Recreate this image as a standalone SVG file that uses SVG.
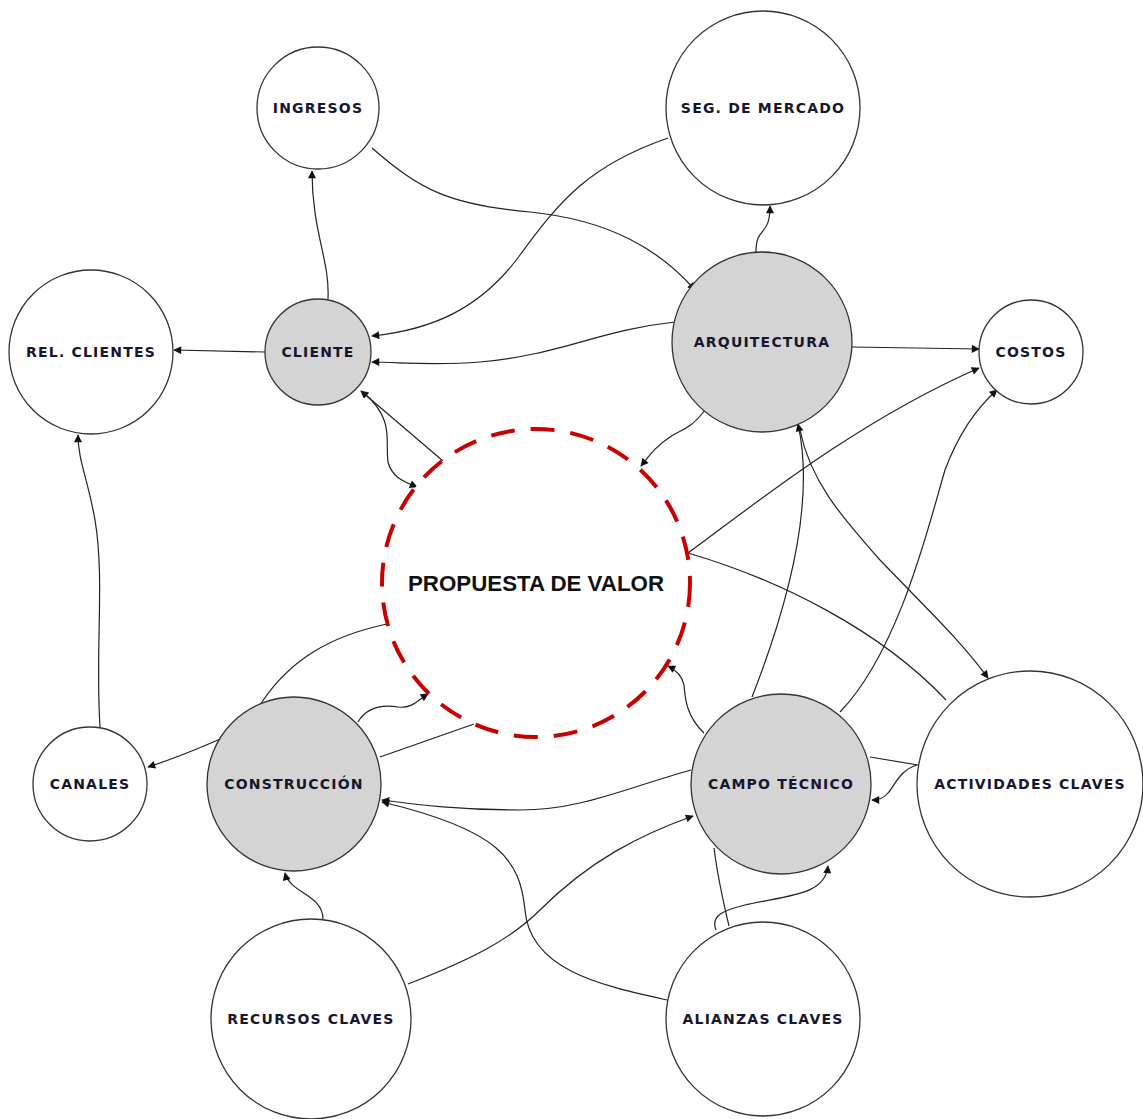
<svg xmlns="http://www.w3.org/2000/svg" width="1143" height="1119" viewBox="0 0 1143 1119">
  <defs>
    <marker id="arrow" viewBox="0 0 10 10" refX="9" refY="5" markerWidth="9" markerHeight="8" markerUnits="userSpaceOnUse" orient="auto">
      <path d="M0,0 L10,5 L0,10 z" fill="#111"/>
    </marker>
    <style>
      .node { fill: #ffffff; stroke: #333; stroke-width: 1.3; }
      .core { fill: #d4d4d4; stroke: #333; stroke-width: 1.3; }
      .value { fill: #ffffff; stroke: #c80000; stroke-width: 4; stroke-dasharray: 24 16; }
      .label { font-family: "DejaVu Sans", Verdana, sans-serif; font-weight: bold; font-size: 14px; letter-spacing: 1.2px; fill: #161630; text-anchor: middle; dominant-baseline: central; }
      .big { font-family: "Liberation Sans", Arial, sans-serif; font-weight: bold; font-size: 22.3px; fill: #111; text-anchor: middle; dominant-baseline: central; }
      .edge { fill: none; stroke: #222; stroke-width: 1.2; }
      .arr { marker-end: url(#arrow); }
    </style>
  </defs>
  <rect width="1143" height="1119" fill="#ffffff"/>

  <!-- connectors -->
  <g id="connectors">
    <path class="edge arr" d="M328,299 C330,260 312,232 312,171"/>
    <path class="edge arr" d="M372,148 C420,190 450,205 530,212 C610,220 660,250 695,290"/>
    <path class="edge arr" d="M668,138 C590,165 560,200 520,255 C480,310 430,330 372,336"/>
    <path class="edge arr" d="M756,252 C756,225 770,238 770,206"/>
    <path class="edge arr" d="M675,322 C600,330 560,355 480,362 C430,366 400,362 372,362"/>
    <path class="edge arr" d="M265,352 L174,350"/>
    <path class="edge arr" d="M852,347 L979,349"/>
    <path class="edge arr" d="M705,410 C690,430 680,430 670,437 C655,447 650,455 641,466"/>
    <path class="edge arr" d="M443,461 L361,391"/>
    <path class="edge arr" d="M364,393 C395,420 385,440 388,462 C392,478 405,482 417,487"/>
    <path class="edge arr" d="M688,553 C760,500 860,420 979,368"/>
    <path class="edge" d="M688,553 C780,580 880,630 946,700"/>
    <path class="edge arr" d="M752,697 C790,600 815,500 798,424"/>
    <path class="edge arr" d="M800,430 C810,480 840,515 880,560 C930,612 960,640 988,678"/>
    <path class="edge arr" d="M840,712 C900,650 930,520 945,470 C960,430 980,405 997,390"/>
    <path class="edge arr" d="M704,733 C685,715 685,695 684,685 C682,675 676,670 668,666"/>
    <path class="edge arr" d="M691,770 C620,790 580,810 520,810 C460,810 420,805 382,800"/>
    <path class="edge arr" d="M917,765 C900,770 895,785 888,793 C884,798 878,800 872,800"/>
    <path class="edge" d="M870,757 L918,765"/>
    <path class="edge arr" d="M387,624 C330,636 290,660 262,702 C245,725 230,735 218,740 C195,750 170,760 148,767"/>
    <path class="edge arr" d="M358,722 C368,705 385,705 398,707 C412,709 418,700 428,694"/>
    <path class="edge" d="M380,757 L474,724"/>
    <path class="edge arr" d="M100,727 C95,650 105,580 95,520 C88,480 78,460 78,435"/>
    <path class="edge arr" d="M323,919 C323,895 290,893 285,873"/>
    <path class="edge arr" d="M408,984 C470,960 510,940 540,910 C590,860 640,835 693,816"/>
    <path class="edge arr" d="M667,1000 C600,985 530,970 525,910 C520,860 500,830 382,802"/>
    <path class="edge arr" d="M716,930 C710,915 725,910 745,905 C790,895 825,895 828,866"/>
    <path class="edge" d="M714,848 C718,880 724,905 729,926"/>
  </g>

  <!-- nodes -->
  <g id="ingresos"><circle class="node" cx="318" cy="108" r="61"/><text class="label" x="318" y="108">INGRESOS</text></g>
  <g id="seg-mercado"><circle class="node" cx="763" cy="108" r="97"/><text class="label" x="763" y="108">SEG. DE MERCADO</text></g>
  <g id="rel-clientes"><circle class="node" cx="91" cy="352" r="82"/><text class="label" x="91" y="352">REL. CLIENTES</text></g>
  <g id="cliente"><circle class="core" cx="318" cy="352" r="53"/><text class="label" x="318" y="352">CLIENTE</text></g>
  <g id="arquitectura"><circle class="core" cx="762" cy="342" r="90"/><text class="label" x="762" y="342">ARQUITECTURA</text></g>
  <g id="costos"><circle class="node" cx="1031" cy="352" r="52"/><text class="label" x="1031" y="352">COSTOS</text></g>
  <g id="propuesta"><circle class="value" cx="536" cy="583" r="154"/><text class="big" x="536" y="583">PROPUESTA DE VALOR</text></g>
  <g id="canales"><circle class="node" cx="90" cy="784" r="57"/><text class="label" x="90" y="784">CANALES</text></g>
  <g id="construccion"><circle class="core" cx="294" cy="784" r="87"/><text class="label" x="294" y="784">CONSTRUCCIÓN</text></g>
  <g id="campo-tecnico"><circle class="core" cx="781" cy="784" r="90"/><text class="label" x="781" y="784">CAMPO TÉCNICO</text></g>
  <g id="actividades"><circle class="node" cx="1030" cy="784" r="113"/><text class="label" x="1030" y="784">ACTIVIDADES CLAVES</text></g>
  <g id="recursos"><circle class="node" cx="311" cy="1019" r="100"/><text class="label" x="311" y="1019">RECURSOS CLAVES</text></g>
  <g id="alianzas"><circle class="node" cx="763" cy="1019" r="97"/><text class="label" x="763" y="1019">ALIANZAS CLAVES</text></g>
</svg>
